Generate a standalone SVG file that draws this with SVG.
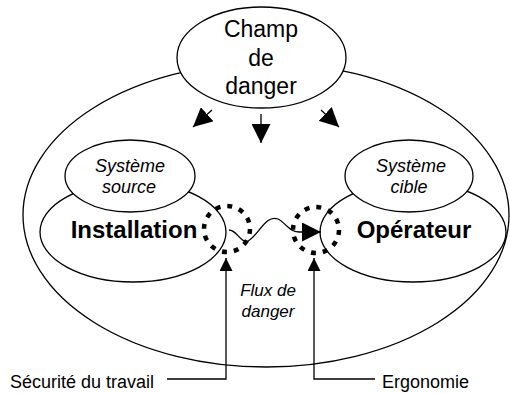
<svg xmlns="http://www.w3.org/2000/svg" width="510" height="394" viewBox="0 0 510 394">
  <defs>
    <marker id="headBig" viewBox="0 0 10 10" refX="10" refY="5" markerWidth="19" markerHeight="19" markerUnits="userSpaceOnUse" orient="auto">
      <path d="M0,0 L10,5 L0,10 Z" fill="#000"/>
    </marker>
    <marker id="headMid" viewBox="0 0 10 10" refX="10" refY="5" markerWidth="13" markerHeight="13" markerUnits="userSpaceOnUse" orient="auto">
      <path d="M0,0 L10,5 L0,10 Z" fill="#000"/>
    </marker>
  </defs>
  <style>
    .shape { fill: #fff; stroke: #000; stroke-width: 1.3; }
    .line { fill: none; stroke: #000; stroke-width: 1.3; }
    .zone { fill: none; stroke: #000; stroke-width: 4.5; stroke-dasharray: 5 7; }
    text { font-family: "Liberation Sans", Arial, sans-serif; fill: #000; text-anchor: middle; }
    .title { font-size: 23px; }
    .sub { font-size: 18px; font-style: italic; }
    .flux { font-size: 17px; font-style: italic; }
    .main { font-size: 24px; font-weight: bold; }
    .label { font-size: 18px; text-anchor: start; }
  </style>

  <!-- outer field -->
  <g id="field">
    <ellipse class="shape" cx="266" cy="215" rx="243" ry="152"/>
  </g>

  <!-- source side -->
  <g id="installation">
    <ellipse class="shape" cx="133" cy="232" rx="93" ry="50"/>
    <text class="main" x="134" y="238">Installation</text>
  </g>
  <g id="systeme-source">
    <ellipse class="shape" cx="130" cy="176" rx="65" ry="36"/>
    <text class="sub" x="130" y="172">Système</text>
    <text class="sub" x="129" y="193">source</text>
  </g>

  <!-- target side -->
  <g id="operateur">
    <ellipse class="shape" cx="413" cy="232" rx="93" ry="50"/>
    <text class="main" x="414" y="238">Opérateur</text>
  </g>
  <g id="systeme-cible">
    <ellipse class="shape" cx="409" cy="176" rx="64" ry="36"/>
    <text class="sub" x="411" y="172">Système</text>
    <text class="sub" x="409" y="193">cible</text>
  </g>

  <!-- danger field -->
  <g id="champ">
    <ellipse class="shape" cx="261.5" cy="57.5" rx="84.5" ry="50.5"/>
    <text class="title" x="261" y="37">Champ</text>
    <text class="title" x="261" y="66">de</text>
    <text class="title" x="261" y="94">danger</text>
  </g>

  <!-- interaction zones -->
  <g id="zone-source">
    <circle class="zone" cx="227" cy="229" r="23"/>
  </g>
  <g id="zone-cible">
    <circle class="zone" cx="316" cy="230" r="23"/>
  </g>

  <!-- labels -->
  <g id="flux-label">
    <text class="flux" x="268" y="296">Flux de</text>
    <text class="flux" x="268" y="317">danger</text>
  </g>
  <g id="securite">
    <text class="label" x="10" y="388">Sécurité du travail</text>
  </g>
  <g id="ergonomie">
    <text class="label" x="382" y="388">Ergonomie</text>
  </g>

  <!-- connectors -->
  <g id="connectors">
    <line class="line" x1="212" y1="110" x2="193" y2="127" marker-end="url(#headBig)"/>
    <line class="line" x1="261" y1="114" x2="261" y2="143" marker-end="url(#headBig)"/>
    <line class="line" x1="321" y1="110" x2="339" y2="127" marker-end="url(#headBig)"/>
    <path class="line" d="M229,230 C237,230 241,244 248,241 C258,236 266,214 278,219 C285,222 289,232 299,232 L321,232" marker-end="url(#headBig)"/>
    <path class="line" d="M167,379 L226,379 L226,258" marker-end="url(#headMid)"/>
    <path class="line" d="M375,379 L314,379 L314,258" marker-end="url(#headMid)"/>
  </g>
</svg>
